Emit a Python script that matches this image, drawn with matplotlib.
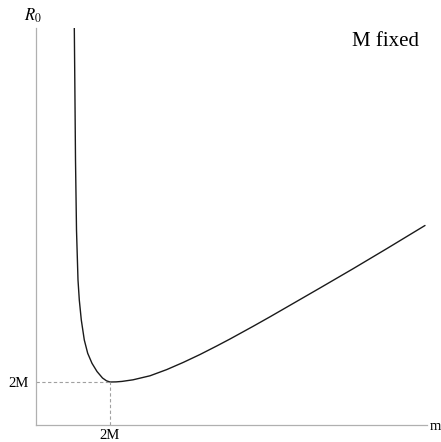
import matplotlib
matplotlib.use("Agg")
import matplotlib.pyplot as plt

# Curve points (units with M = 1)
m_vals = [1.0351, 1.0486, 1.0676, 1.0946, 1.1351, 1.1703, 1.2243, 1.3054, 1.3973,
          1.5135, 1.6486, 1.7973, 1.9054, 2.0, 2.1622, 2.3243, 2.6216, 3.0811,
          3.5324, 3.9811, 4.4324, 4.8838, 5.2432, 5.8730, 6.3243, 6.7757, 7.6757,
          8.5757, 9.4784, 10.5135]
r_vals = [11.595, 10.162, 8.0, 6.108, 4.757, 4.216, 3.676, 3.135, 2.776,
          2.505, 2.284, 2.108, 2.032, 2.0, 2.003, 2.016, 2.059, 2.168,
          2.335, 2.530, 2.743, 2.973, 3.162, 3.508, 3.762, 4.022, 4.541,
          5.065, 5.603, 6.230]

min_point = (2.0, 2.0)
x_ticks = [2.0]
x_tick_labels = ["2M"]
y_ticks = [2.0]
y_tick_labels = ["2M"]

W, H = 441, 442
fig = plt.figure(figsize=(W / 100, H / 100), dpi=100)
left, right, top, bottom = 36, 427, 28, 425
ax = fig.add_axes([left / W, 1 - bottom / H, (right - left) / W, (bottom - top) / H])

xmax = (right - 36) / 37
ymin = 2 + (382 - bottom) / 37
ymax = 2 + (382 - top) / 37
ax.set_xlim(0, xmax)
ax.set_ylim(ymin, ymax)

serif = ["Liberation Serif", "DejaVu Serif"]

ax.plot(m_vals, r_vals, color="#1a1a1a", lw=1.0, clip_on=True,
        solid_joinstyle="round", solid_capstyle="round")

gray = "#a0a0a0"
ax.plot([0, min_point[0]], [min_point[1], min_point[1]], color=gray, lw=0.8,
        ls=(0, (3, 2.2)))
ax.plot([min_point[0], min_point[0]], [ymin, min_point[1]], color=gray, lw=0.8,
        ls=(0, (3, 2.2)))

for s in ["top", "right"]:
    ax.spines[s].set_visible(False)
for s in ["left", "bottom"]:
    ax.spines[s].set_color("#b0b0b0")
    ax.spines[s].set_linewidth(0.9)

ax.set_xticks(x_ticks)
ax.set_xticklabels(x_tick_labels, fontfamily=serif, fontsize=10.5)
ax.set_yticks(y_ticks)
ax.set_yticklabels(y_tick_labels, fontfamily=serif, fontsize=10.5)
ax.tick_params(axis="x", length=0, pad=3)
ax.tick_params(axis="y", length=0, pad=5)

fig.text(24 / W, 1 - 16 / H, r"$R_0$", fontsize=12, ha="left", va="center",
         math_fontfamily="stix")
fig.text(430 / W, 1 - 427 / H, "m", fontfamily=serif, fontsize=10.5,
         ha="left", va="center")
fig.text(385 / W, 1 - 42 / H, "M fixed", fontfamily=serif, fontsize=15,
         ha="center", va="center")

fig.savefig("out.png", dpi=100)
